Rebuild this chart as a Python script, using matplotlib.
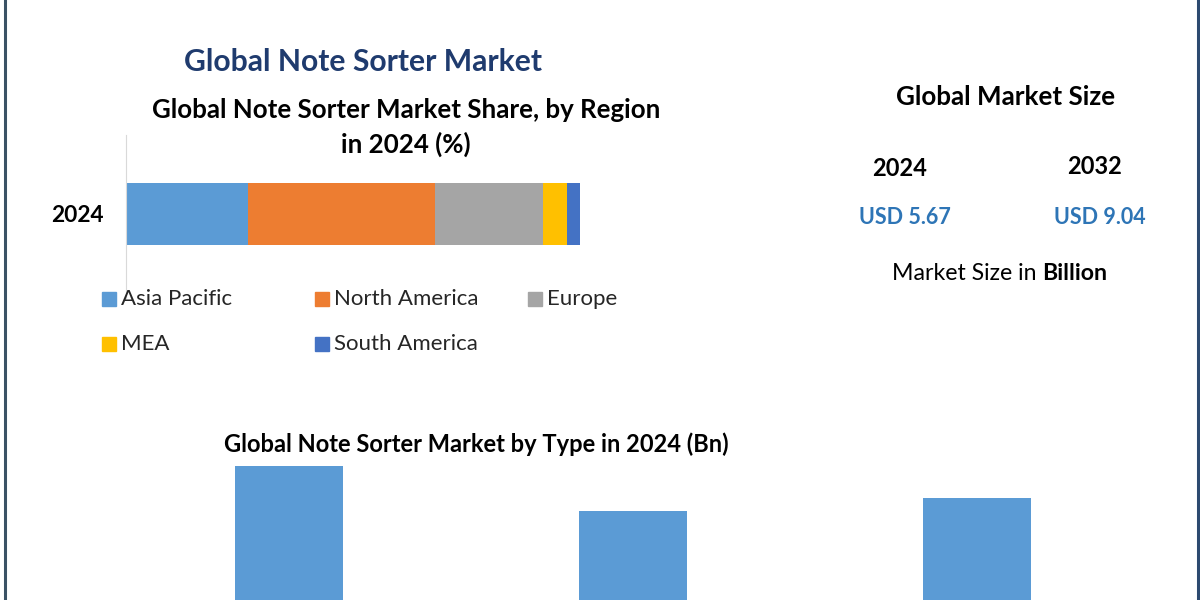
import matplotlib
matplotlib.use('Agg')
import matplotlib.pyplot as plt
from matplotlib.patches import Rectangle
from matplotlib.lines import Line2D

W, H = 1200, 600

regions = ['Asia Pacific', 'North America', 'Europe', 'MEA', 'South America']
region_share = [26.9, 41.1, 23.8, 5.3, 2.9]
region_colors = ['#5b9bd5', '#ed7d31', '#a5a5a5', '#ffc000', '#4472c4']

types = ['Type 1', 'Type 2', 'Type 3']
type_values = [2.22, 1.64, 1.81]

years = ['2024', '2032']
market_size = [5.67, 9.04]

FONT = ['Lato', 'DejaVu Sans']
plt.rcParams['font.family'] = FONT


def fx(x):
  return x / W


def fy(y):
  return 1 - y / H


fig = plt.figure(figsize=(12, 6), dpi=100)
fig.patch.set_facecolor('white')

# frame lines left / right
fig.add_artist(Line2D([fx(5), fx(5)], [0, 1], color='#3b5265', lw=2.2))
fig.add_artist(Line2D([fx(1197.5), fx(1197.5)], [0, 1], color='#2c4a70', lw=2.2))

# titles
fig.text(fx(363), fy(62), 'Global Note Sorter Market', ha='center', va='center',
         fontsize=21.7, fontweight='bold', color='#1f3b6e')
fig.text(fx(406), fy(110), 'Global Note Sorter Market Share, by Region', ha='center',
         va='center', fontsize=18.6, fontweight='bold', color='black')
fig.text(fx(406), fy(144), 'in 2024 (%)', ha='center', va='center', fontsize=18.6,
         fontweight='bold', color='black')

## stacked share bar
ax1 = fig.add_axes([fx(126), fy(298), fx(580 - 126), (298 - 135) / H])
left = 0
for name, val, col in zip(regions, region_share, region_colors):
  ax1.barh([0], [val], left=left, height=1, color=col, label=name)
  left += val
ax1.set_xlim(0, sum(region_share))
ax1.set_ylim(-1.355, 1.274)
for s in ['top', 'right', 'bottom']:
  ax1.spines[s].set_visible(False)
ax1.spines['left'].set_color('#d9d9d9')
ax1.set_xticks([])
ax1.set_yticks([0])
ax1.set_yticklabels(['2024'], fontsize=16.3, fontweight='bold')
ax1.tick_params(axis='y', length=0, pad=16)
ax1.patch.set_alpha(0)

# legend laid out by hand (3 + 2 entries)
leg_x = [102, 315, 528]
leg_y = [299, 344]
for i, (name, col) in enumerate(zip(regions, region_colors)):
  cx = leg_x[i % 3]
  cy = leg_y[i // 3]
  fig.add_artist(Rectangle((fx(cx), fy(cy + 7)), 14 / W, 14 / H, color=col,
                           transform=fig.transFigure))
  fig.text(fx(cx + 19), fy(cy), name, ha='left', va='center', fontsize=16,
           color='#262626')

## market size panel
fig.text(fx(1006), fy(97), 'Global Market Size', ha='center', va='center',
         fontsize=18.7, fontweight='bold', color='black')
for yr, val, x, y in zip(years, market_size, [900, 1095], [168, 167]):
  fig.text(fx(x), fy(y), yr, ha='center', va='center', fontsize=17,
           fontweight='bold', color='black')
  fig.text(fx(x + 5), fy(y + 50), 'USD %.2f' % val, ha='center', va='center',
           fontsize=15.5, fontweight='bold', color='#2e75b6')
fig.text(fx(1036), fy(273), 'Market Size in', ha='right', va='center',
         fontsize=16.7, color='black')
fig.text(fx(1042), fy(273), 'Billion', ha='left', va='center', fontsize=16.7,
         fontweight='bold', color='black')

## bars by type
fig.text(fx(476), fy(444), 'Global Note Sorter Market by Type in 2024 (Bn)',
         ha='center', va='center', fontsize=17, fontweight='bold', color='black')
ax2 = fig.add_axes([fx(117), 0, fx(1032.5), 140 / H])
ax2.bar(range(len(types)), type_values, width=108 / 344, color='#5b9bd5')
ax2.set_xlim(-0.5, 2.5)
ax2.set_ylim(0.49, 2.297)
ax2.axis('off')

fig.savefig('out.png', dpi=100, facecolor='white')
